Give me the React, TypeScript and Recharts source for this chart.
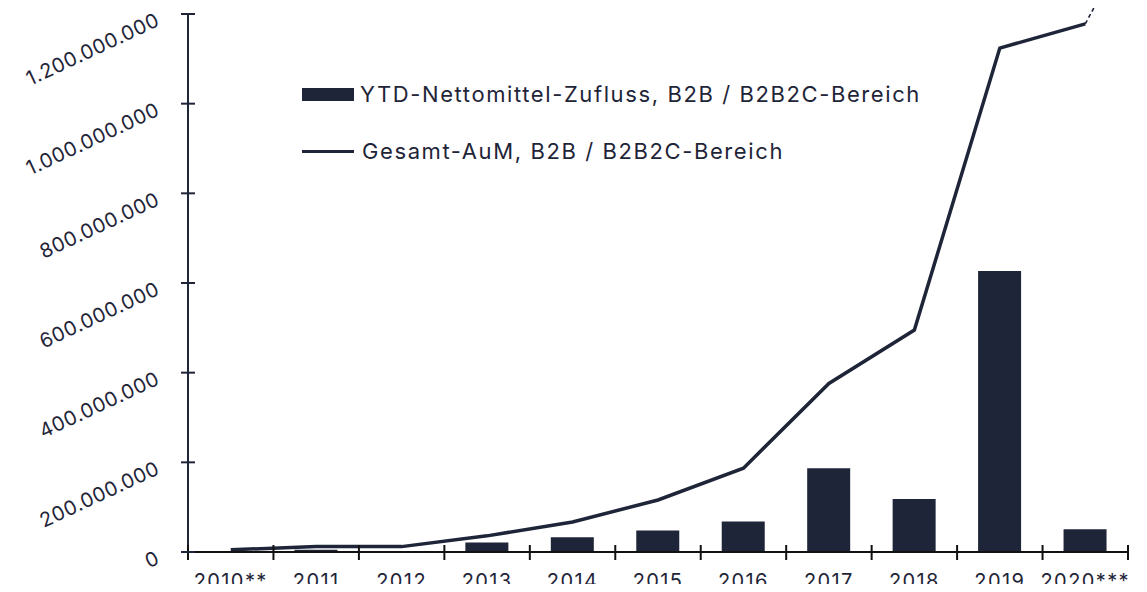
import { Bar, ComposedChart, Legend, Line, XAxis, YAxis } from "recharts";

const categories = ["2010**", "2011", "2012", "2013", "2014", "2015", "2016", "2017", "2018", "2019", "2020***"];
const inflow = [2e6, 5e6, 1e6, 21e6, 33e6, 48e6, 68e6, 187e6, 118e6, 627e6, 51e6];
const aum = [5e6, 12e6, 12e6, 36e6, 67e6, 116e6, 187e6, 376e6, 495e6, 1124e6, 1178e6];
const yTicks = [0, 200e6, 400e6, 600e6, 800e6, 1000e6, 1200e6];

const inflowName = "YTD-Nettomittel-Zufluss, B2B / B2B2C-Bereich";
const aumName = "Gesamt-AuM, B2B / B2B2C-Bereich";

const NAVY = "#1f2538";
const FONT = "Inter, 'Noto Sans', sans-serif";

const data = categories.map((year, i) => ({ year, inflow: inflow[i], aum: aum[i] }));

function formatDots(value: number) {
  return String(Math.round(value)).replace(/\B(?=(\d{3})+(?!\d))/g, ".");
}

function YTick({ x, y, payload }: { x?: number; y?: number; payload?: { value: number } }) {
  if (x == null || y == null || !payload) return null;
  const tx = x - 27;
  const ty = y + 11;
  return (
    <g>
      <line x1={x - 7} x2={x + 7} y1={y} y2={y} stroke={NAVY} strokeWidth={2} />
      <text
        x={tx}
        y={ty}
        textAnchor="end"
        transform={`rotate(-25, ${tx}, ${ty})`}
        fill={NAVY}
        fontSize={20}
        letterSpacing={0.6}
        fontFamily={FONT}
      >
        {formatDots(payload.value)}
      </text>
    </g>
  );
}

function XTick({
  x,
  y,
  payload
}: {
  x?: number;
  y?: number;
  payload?: { value: string; offset?: number; index?: number };
}) {
  if (x == null || y == null || !payload) return null;
  const half = payload.offset ?? 0;
  const isLast = payload.index === categories.length - 1;
  return (
    <g>
      <line x1={x - half} x2={x - half} y1={y - 7} y2={y + 8} stroke="#111" strokeWidth={2} />
      {isLast && <line x1={x + half} x2={x + half} y1={y - 7} y2={y + 8} stroke="#111" strokeWidth={2} />}
      <text x={x} y={y + 36} textAnchor="middle" fill={NAVY} fontSize={20} letterSpacing={1.4} fontFamily={FONT}>
        {payload.value}
      </text>
    </g>
  );
}

function LastPointExtension(props: { cx?: number; cy?: number; index?: number }) {
  const { cx, cy, index } = props;
  if (cx == null || cy == null || index !== aum.length - 1) return <g key={`d${index}`} />;
  return (
    <line
      key={`d${index}`}
      x1={cx}
      y1={cy}
      x2={cx + 14}
      y2={cy - 26}
      stroke={NAVY}
      strokeWidth={1.6}
      strokeDasharray="4 3"
    />
  );
}

function ChartLegend() {
  const row = { display: "flex", alignItems: "center", height: 30 } as const;
  const label = {
    fontFamily: FONT,
    fontSize: 22,
    letterSpacing: 1.6,
    color: NAVY,
    whiteSpace: "nowrap"
  } as const;
  return (
    <div>
      <div style={row}>
        <div style={{ width: 52, height: 13, background: NAVY, marginRight: 6 }} />
        <span style={label}>{inflowName}</span>
      </div>
      <div style={{ ...row, marginTop: 27 }}>
        <div style={{ width: 52, height: 3, background: NAVY, marginRight: 8 }} />
        <span style={label}>{aumName}</span>
      </div>
    </div>
  );
}

export default function App() {
  return (
    <div style={{ margin: -8, width: 1147, height: 592, background: "#fff", overflow: "hidden" }}>
      <ComposedChart
        width={1147}
        height={592}
        data={data}
        margin={{ top: 14, right: 19, bottom: 0, left: 0 }}
      >
        <XAxis
          dataKey="year"
          height={40}
          tickSize={0}
          tickMargin={0}
          interval={0}
          tick={<XTick />}
          axisLine={{ stroke: "#111", strokeWidth: 2 }}
        />
        <YAxis
          width={188}
          domain={[0, 1200e6]}
          ticks={yTicks}
          tickSize={0}
          tickMargin={0}
          tick={<YTick />}
          axisLine={{ stroke: NAVY, strokeWidth: 2 }}
        />
        <Legend
          layout="vertical"
          align="center"
          verticalAlign="middle"
          content={<ChartLegend />}
          wrapperStyle={{ top: 79, left: 302, width: "auto" }}
        />
        <Bar dataKey="inflow" name={inflowName} fill={NAVY} barSize={43} isAnimationActive={false} />
        <Line
          type="linear"
          dataKey="aum"
          name={aumName}
          stroke={NAVY}
          strokeWidth={3.5}
          dot={LastPointExtension}
          activeDot={false}
          isAnimationActive={false}
        />
      </ComposedChart>
    </div>
  );
}
